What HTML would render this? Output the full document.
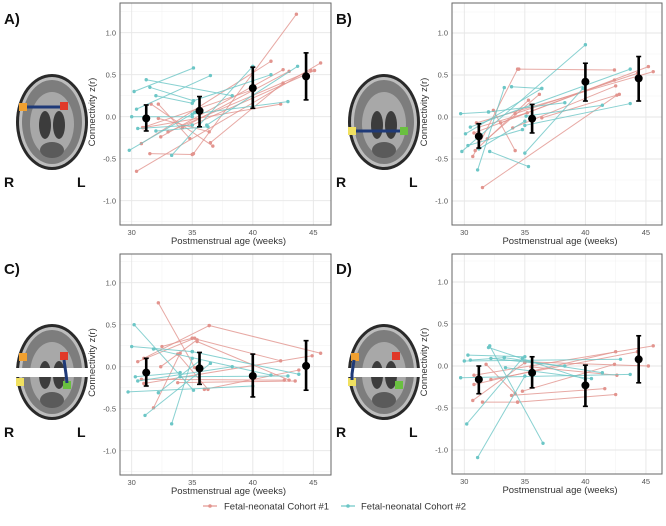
<!DOCTYPE html>
<html><head><meta charset="utf-8"><style>
html,body{margin:0;padding:0;background:#fff;}
svg{display:block;font-family:"Liberation Sans",sans-serif;}
</style></head><body>
<svg id="fig" width="666" height="526" viewBox="0 0 666 526">
<g id="brains"></g>
<g id="plots"></g>
<g>
  <g>
    <line x1="203" y1="506" x2="217" y2="506" stroke="#e2948e" stroke-width="1.2"/>
    <circle cx="210" cy="506" r="1.8" fill="#e2948e"/>
    <text x="224" y="509.5" font-size="9.5" fill="#333">Fetal-neonatal Cohort #1</text>
  </g>
  <g>
    <line x1="341" y1="506" x2="355" y2="506" stroke="#6cc6c6" stroke-width="1.2"/>
    <circle cx="348" cy="506" r="1.8" fill="#6cc6c6"/>
    <text x="361" y="509.5" font-size="9.5" fill="#333">Fetal-neonatal Cohort #2</text>
  </g>
</g>
</svg>
<script>
// ---- data ----
const xTicks = [30, 35, 40, 45];
const yTicks = [-1.0, -0.5, 0.0, 0.5, 1.0];
const yTickLabels = ["-1.0", "-0.5", "0.0", "0.5", "1.0"];
const panelLabels = ["A)", "B)", "C)", "D)"];
const meanAges = [31.2, 35.6, 40.0, 44.4];
const meanA = [-0.02, 0.07, 0.34, 0.48];
const loA = [-0.17, -0.12, 0.10, 0.20];
const hiA = [0.14, 0.24, 0.59, 0.76];
const meanB = [-0.23, -0.02, 0.42, 0.46];
const loB = [-0.37, -0.19, 0.19, 0.19];
const hiB = [-0.08, 0.15, 0.64, 0.72];
const meanC = [-0.07, -0.02, -0.11, 0.01];
const loC = [-0.23, -0.21, -0.36, -0.28];
const hiC = [0.10, 0.17, 0.15, 0.31];
const meanD = [-0.16, -0.08, -0.23, 0.08];
const loD = [-0.33, -0.26, -0.48, -0.20];
const hiD = [0.00, 0.11, 0.01, 0.36];
// segments: [age1, z1, age2, z2]
const tealA = [[30.2,0.30,35.1,0.58],[31.2,0.44,38.3,0.25],[31.5,0.35,35.1,0.19],[30.0,0.00,35.0,0.00],[30.4,0.09,36.5,0.49],[29.8,-0.40,35.2,0.05],[30.5,-0.14,35.0,-0.10],[32.0,-0.17,36.3,-0.12],[33.3,-0.46,40.0,0.60],[35.1,0.19,41.5,0.50],[36.2,-0.10,43.7,0.60],[35.0,0.03,42.9,0.18],[32.0,0.25,35.0,0.16]];
const redA = [[30.4,-0.65,45.6,0.64],[35.1,-0.44,43.6,1.22],[30.8,-0.32,41.5,0.66],[31.0,-0.13,42.3,0.15],[31.6,0.15,36.7,-0.35],[32.2,0.15,34.8,-0.26],[32.4,-0.24,42.5,0.56],[33.0,-0.18,44.8,0.55],[34.2,-0.13,43.0,0.54],[32.2,-0.02,36.4,-0.18],[36.5,-0.31,42.5,0.40],[30.9,-0.13,40.0,0.32],[35.0,-0.10,45.1,0.55],[31.5,-0.44,35.0,-0.45]];
const tealB = [[29.7,0.04,32.0,0.06],[29.8,-0.41,40.0,0.86],[30.3,-0.34,34.8,-0.15],[32.1,-0.41,35.3,-0.59],[31.1,-0.63,33.3,0.35],[30.1,-0.20,36.4,0.34],[33.9,0.36,36.4,0.34],[30.5,-0.12,43.7,0.57],[32.0,0.06,38.3,0.17],[35.0,-0.43,39.8,0.34],[35.1,0.01,41.4,0.14],[35.0,-0.10,43.7,0.16],[31.2,-0.38,35.0,-0.05]];
const redB = [[31.5,-0.84,42.6,0.26],[34.5,0.57,42.4,0.56],[30.7,-0.47,34.4,0.57],[30.8,-0.19,45.2,0.60],[31.0,-0.07,45.6,0.54],[32.4,0.08,34.2,-0.40],[31.9,-0.26,36.2,0.27],[33.0,-0.07,42.4,0.44],[34.0,-0.13,42.5,0.37],[30.9,-0.40,35.3,0.20],[34.2,0.04,44.3,0.52],[36.4,-0.01,42.8,0.27],[31.2,-0.12,35.2,0.05]];
const tealC = [[30.2,0.50,35.1,-0.28],[30.0,0.24,35.0,0.18],[35.0,0.18,43.8,-0.09],[29.7,-0.30,40.0,-0.23],[30.3,-0.12,34.0,-0.07],[31.1,-0.58,36.5,0.04],[33.3,-0.68,35.0,0.10],[32.2,-0.31,35.6,0.07],[30.5,-0.17,38.3,0.00],[34.0,-0.12,42.9,-0.11],[31.8,0.21,41.5,-0.10]];
const redC = [[32.2,0.76,35.2,-0.01],[31.8,-0.49,34.0,0.16],[30.5,0.06,35.2,0.34],[31.0,0.10,36.4,0.49],[36.4,0.49,45.6,0.16],[32.5,0.24,35.0,0.34],[35.0,0.34,42.3,0.07],[32.4,0.00,35.4,0.32],[35.4,0.30,43.0,-0.16],[30.8,-0.15,42.6,-0.16],[31.0,-0.20,44.9,0.13],[33.8,0.15,36.3,-0.27],[33.8,-0.19,43.5,-0.17],[36.0,-0.27,43.8,-0.04]];
const tealD = [[32.1,0.24,36.5,-0.92],[31.1,-1.09,35.0,-0.12],[30.2,-0.69,34.8,0.09],[30.3,0.13,35.0,0.11],[29.7,-0.14,43.7,-0.10],[30.0,0.06,42.9,0.08],[32.0,0.22,40.0,-0.16],[32.2,0.09,38.3,0.00],[30.5,0.07,33.3,0.10],[33.3,0.10,41.4,-0.08],[33.4,-0.02,40.5,-0.15]];
const redD = [[30.7,-0.41,35.0,0.04],[31.5,-0.43,34.4,-0.43],[34.4,-0.43,42.5,-0.34],[30.8,-0.22,42.5,0.17],[30.8,-0.11,45.6,0.24],[31.8,0.02,34.2,-0.33],[33.9,-0.35,41.6,-0.27],[35.0,0.05,45.2,0.00],[32.2,-0.16,44.3,0.17],[35.5,-0.01,42.6,-0.11],[34.8,-0.30,42.4,0.02]];

const NS = "http://www.w3.org/2000/svg";
function mk(tag, attrs, parent) {
  const e = document.createElementNS(NS, tag);
  for (const k in attrs) e.setAttribute(k, attrs[k]);
  parent.appendChild(e);
  return e;
}
const RED = "#e2948e", TEAL = "#6cc6c6";
const panels = [
  {id:"a", bx:120, by:3, bw:211, bh:222, x30:131.7, y0:116.7, teal:tealA, red:redA, m:meanA, lo:loA, hi:hiA},
  {id:"b", bx:452, by:3, bw:210, bh:222, x30:464.3, y0:117, teal:tealB, red:redB, m:meanB, lo:loB, hi:hiB},
  {id:"c", bx:120, by:254, bw:211, bh:221, x30:131.7, y0:366.7, teal:tealC, red:redC, m:meanC, lo:loC, hi:hiC},
  {id:"d", bx:452, by:254, bw:210, bh:220, x30:464.3, y0:366, teal:tealD, red:redD, m:meanD, lo:loD, hi:hiD}
];
const PXW = 12.11, PXU = 84;
const plots = document.getElementById("plots");
panels.forEach(function(p) {
  const sx = function(a){ return p.x30 + (a - 30) * PXW; };
  const sy = function(v){ return p.y0 - v * PXU; };
  const g = mk("g", {}, plots);
  
  
  mk("rect", {x:p.bx, y:p.by, width:p.bw, height:p.bh, fill:"#fff"}, g);
  // minor grid
  [27.5,32.5,37.5,42.5,47.5].forEach(function(t){
    const x = sx(t); if (x > p.bx && x < p.bx + p.bw)
      mk("line", {x1:x, x2:x, y1:p.by, y2:p.by+p.bh, stroke:"#f3f3f3", "stroke-width":0.6}, g);
  });
  [-1.25,-0.75,-0.25,0.25,0.75,1.25].forEach(function(t){
    const y = sy(t); if (y > p.by && y < p.by + p.bh)
      mk("line", {x1:p.bx, x2:p.bx+p.bw, y1:y, y2:y, stroke:"#f3f3f3", "stroke-width":0.6}, g);
  });
  xTicks.forEach(function(t){
    const x = sx(t);
    mk("line", {x1:x, x2:x, y1:p.by, y2:p.by+p.bh, stroke:"#e6e6e6", "stroke-width":0.9}, g);
    const tl = mk("text", {x:x, y:p.by+p.bh+10, "font-size":7.5, fill:"#555", "text-anchor":"middle"}, g);
    tl.textContent = String(t);
    
    
  });
  yTicks.forEach(function(t, i){
    const y = sy(t);
    mk("line", {x1:p.bx, x2:p.bx+p.bw, y1:y, y2:y, stroke:"#e6e6e6", "stroke-width":0.9}, g);
    const tl = mk("text", {x:p.bx-4, y:y+2.7, "font-size":7.5, fill:"#555", "text-anchor":"end"}, g);
    tl.textContent = yTickLabels[i];
    
    
  });
  function drawSegs(arr, col, name) {
    arr.forEach(function(s){
      const ln = mk("line", {x1:sx(s[0]), y1:sy(s[1]), x2:sx(s[2]), y2:sy(s[3]), stroke:col, "stroke-width":1, opacity:0.8}, g);
      
      
      [[s[0],s[1]],[s[2],s[3]]].forEach(function(q){
        const c = mk("circle", {cx:sx(q[0]), cy:sy(q[1]), r:1.7, fill:col}, g);
        
        
      });
    });
  }
  drawSegs(p.red, RED, "cohort-1");
  drawSegs(p.teal, TEAL, "cohort-2");
  meanAges.forEach(function(a, i){
    const x = sx(a);
    const eb = mk("g", {}, g);
    
    
    mk("line", {x1:x, x2:x, y1:sy(p.lo[i]), y2:sy(p.hi[i]), stroke:"#000", "stroke-width":2.6}, eb);
    mk("line", {x1:x-2.5, x2:x+2.5, y1:sy(p.lo[i]), y2:sy(p.lo[i]), stroke:"#000", "stroke-width":1.6}, eb);
    mk("line", {x1:x-2.5, x2:x+2.5, y1:sy(p.hi[i]), y2:sy(p.hi[i]), stroke:"#000", "stroke-width":1.6}, eb);
    mk("circle", {cx:x, cy:sy(p.m[i]), r:4, fill:"#000"}, eb);
  });
  mk("rect", {x:p.bx, y:p.by, width:p.bw, height:p.bh, fill:"none", stroke:"#666", "stroke-width":1}, g);
  const xt = mk("text", {x:p.bx+p.bw/2+3, y:p.by+p.bh+19, "font-size":9.5, fill:"#333", "text-anchor":"middle"}, g);
  xt.textContent = "Postmenstrual age (weeks)";
  
  
  const yx = p.bx - 25, yy = p.by + p.bh/2 - 2;
  const yt = mk("text", {x:yx, y:yy, "font-size":9.5, fill:"#333", "text-anchor":"middle", transform:"rotate(-90 "+yx+" "+yy+")"}, g);
  yt.textContent = "Connectivity z(r)";
  
  
});

// ---- brain insets ----
const brains = document.getElementById("brains");
const brainDefs = [
  {ox:0, oy:0, lab:"A)"}, {ox:332, oy:0, lab:"B)"}, {ox:0, oy:250, lab:"C)"}, {ox:332, oy:250, lab:"D)"}
];
brainDefs.forEach(function(b, i){
  const g = mk("g", {transform:"translate("+b.ox+","+b.oy+")"}, brains);
  
  
  const t = mk("text", {x:4, y:24, "font-size":15, "font-weight":"bold", fill:"#111"}, g);
  t.textContent = panelLabels[i];
  
  
  mk("ellipse", {cx:52, cy:122, rx:36, ry:48, fill:"#2a2a2a"}, g);
  mk("ellipse", {cx:52, cy:122, rx:33, ry:45, fill:"#bdbdbd"}, g);
  mk("ellipse", {cx:52, cy:122, rx:30, ry:42, fill:"#7d7d7d"}, g);
  mk("ellipse", {cx:52, cy:124, rx:22, ry:32, fill:"#a8a8a8"}, g);
  mk("ellipse", {cx:45, cy:125, rx:6, ry:14, fill:"#3c3c3c"}, g);
  mk("ellipse", {cx:59, cy:125, rx:6, ry:14, fill:"#3c3c3c"}, g);
  mk("ellipse", {cx:52, cy:150, rx:12, ry:8, fill:"#5a5a5a"}, g);
  const r = mk("text", {x:4, y:187, "font-size":14, "font-weight":"bold", fill:"#111"}, g); r.textContent = "R";
  const l = mk("text", {x:77, y:187, "font-size":14, "font-weight":"bold", fill:"#111"}, g); l.textContent = "L";
  if (i === 0) {
    mk("line", {x1:27, y1:107, x2:64, y2:107, stroke:"#1f3a78", "stroke-width":3}, g);
    mk("rect", {x:19, y:103, width:8, height:8, fill:"#f0a030"}, g);
    mk("rect", {x:60, y:102, width:8, height:8, fill:"#e03828"}, g);
  } else if (i === 1) {
    mk("line", {x1:22, y1:131, x2:72, y2:131, stroke:"#1f3a78", "stroke-width":3}, g);
    mk("rect", {x:16, y:127, width:8, height:8, fill:"#f0e060"}, g);
    mk("rect", {x:68, y:127, width:8, height:8, fill:"#6ac040"}, g);
  } else {
    mk("rect", {x:-4, y:118, width:104, height:9, fill:"#fff"}, g);
    mk("rect", {x:19, y:103, width:8, height:8, fill:"#f0a030"}, g);
    mk("rect", {x:60, y:102, width:8, height:8, fill:"#e03828"}, g);
    mk("rect", {x:16, y:128, width:8, height:8, fill:"#f0e060"}, g);
    mk("rect", {x:63, y:131, width:8, height:8, fill:"#6ac040"}, g);
    if (i === 2) mk("polyline", {points:"64,110 66,124 67,133", fill:"none", stroke:"#1f3a78", "stroke-width":3}, g);
    else mk("polyline", {points:"22,110 20,124 20,130", fill:"none", stroke:"#1f3a78", "stroke-width":3}, g);
  }
});
</script>
</body></html>
